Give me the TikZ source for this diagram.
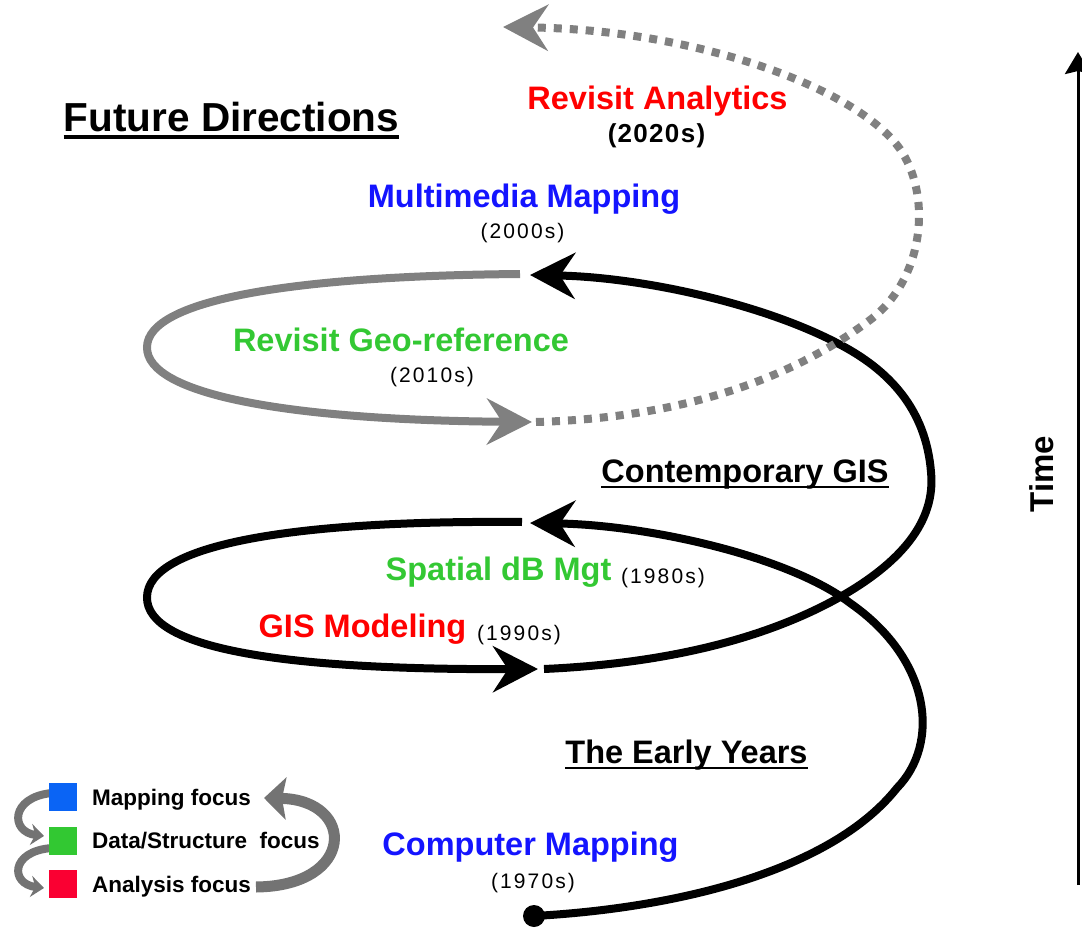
\documentclass[tikz,border=0pt]{standalone}
\usepackage{fontspec}
\setmainfont{Liberation Sans}
\usetikzlibrary{arrows.meta}
\definecolor{tred}{RGB}{255,0,0}
\definecolor{tblue}{RGB}{20,20,255}
\definecolor{tgreen}{RGB}{51,200,51}
\definecolor{lblue}{RGB}{10,100,245}
\definecolor{lgreen}{RGB}{50,200,50}
\definecolor{lred}{RGB}{250,0,50}
\definecolor{spgray}{RGB}{128,128,128}
\definecolor{leggray}{RGB}{115,115,115}
\begin{document}
\begin{tikzpicture}[x=1pt,y=-1pt,
  lbl/.style={inner sep=0pt, anchor=base, font=\bfseries\fontsize{32.5}{36}\selectfont},
  yr/.style={inner sep=0pt, anchor=base, font=\fontsize{21}{24}\selectfont\addfontfeatures{LetterSpace=10}},
  yrb/.style={inner sep=0pt, anchor=base, font=\bfseries\fontsize{26}{30}\selectfont\addfontfeatures{LetterSpace=5}},
  legtxt/.style={inner sep=0pt, anchor=base west, font=\bfseries\fontsize{22.5}{26}\selectfont},
  bigarrow/.style={-{Stealth[length=45pt,width=46pt,inset=15pt]}},
  blackline/.style={line width=8pt, black},
  grayline/.style={line width=8pt, spgray},
  dotline/.style={line width=8pt, spgray, dash pattern=on 8pt off 8pt},
  legarrow/.style={leggray, line width=8pt, -{Stealth[length=13pt,width=21pt]}},
  uline/.style={line width=2.5pt, black},
]
\useasboundingbox (0,0) rectangle (1082,928);

% key coordinates
\coordinate (start) at (534,916);
\coordinate (tip80) at (530,523);
\coordinate (st80) at (522,522);
\coordinate (tip90) at (538,669);
\coordinate (st90) at (544,669);
\coordinate (tip00) at (530,275);
\coordinate (st00) at (520,274);
\coordinate (tip10) at (532,422);
\coordinate (st10) at (536,422);
\coordinate (tip20) at (503,27);
\coordinate (xa) at (897,788);
\coordinate (xb) at (850,603);
\coordinate (ca) at (840,597);
\coordinate (cb) at (931,472);
\coordinate (cc) at (837,343);
\coordinate (la) at (147,597);
\coordinate (ga) at (147,347);
\coordinate (ea) at (870,320);
\coordinate (eb) at (902,152);

% early years segment
\draw[blackline, bigarrow] (start) .. controls (680,908) and (832,870) .. (xa)
  .. controls (940,744) and (932,660) .. (xb)
  .. controls (790,557) and (650,525) .. (tip80);
\fill (start) circle (11pt);

% 1980s -> 1990s loop
\draw[blackline, bigarrow] (st80) .. controls (290,520) and (148,545) .. (la)
  .. controls (146,650) and (290,670) .. (tip90);

% 1990s -> 2000s segment
\draw[blackline, bigarrow] (st90) .. controls (700,662) and (790,625) .. (ca)
  .. controls (900,563) and (936,522) .. (cb)
  .. controls (926,410) and (890,370) .. (cc)
  .. controls (760,303) and (640,277) .. (tip00);

% 2000s -> 2010s gray loop
\draw[grayline, -{Stealth[length=45pt,width=46pt,inset=15pt]}] (st00) .. controls (290,276) and (148,300) .. (ga)
  .. controls (146,395) and (290,420) .. (tip10);

% 2010s -> 2020s dotted
\draw[dotline, -{Stealth[length=45pt,width=46pt,inset=15pt]}] (st10) .. controls (680,418) and (790,380) .. (ea)
  .. controls (923,280) and (932,200) .. (eb)
  .. controls (862,90) and (700,30) .. (tip20);

% texts
\node[lbl, font=\bfseries\fontsize{40.5}{44}\selectfont] (fd) at (231.5,132) {Future Directions};
\draw[line width=3.5pt] ([yshift=-5pt]fd.base west) -- ([yshift=-5pt]fd.base east);
\node[lbl, text=tred] (ra) at (657.5,110) {Revisit Analytics};
\node[yrb] (y20) at (656.5,143) {(2020s)};
\node[lbl, text=tblue] (mm) at (524,208) {Multimedia Mapping};
\node[yr] (y00) at (522.5,239) {(2000s)};
\node[lbl, text=tgreen] (rg) at (401,351) {Revisit Geo-reference};
\node[yr] (y10) at (432,382) {(2010s)};
\node[lbl] (cg) at (745,482) {Contemporary GIS};
\draw[uline] ([yshift=-5pt]cg.base west) -- ([yshift=-5pt]cg.base east);
\node[lbl, text=tgreen] (sdb) at (498.5,580) {Spatial dB Mgt};
\node[yr] (y80) at (663,583) {(1980s)};
\node[lbl, text=tred] (gm) at (362.5,637) {GIS Modeling};
\node[yr] (y90) at (519,640) {(1990s)};
\node[lbl] (ey) at (686.5,763) {The Early Years};
\draw[uline] ([yshift=-5pt]ey.base west) -- ([yshift=-5pt]ey.base east);
\node[lbl, text=tblue] (cm) at (530.5,855) {Computer Mapping};
\node[yr] (y70) at (533,888) {(1970s)};

% time axis
\coordinate (tbot) at (1078,885);
\coordinate (ttop) at (1078,52);
\draw[line width=3pt, -{Stealth[length=22pt,width=26pt,inset=3pt]}] (tbot) -- (ttop);
\node[inner sep=0pt, rotate=90, font=\bfseries\fontsize{33}{36}\selectfont] (time) at (1042,474) {Time};

% legend
\coordinate (la1) at (52,793);
\coordinate (lb1) at (44,836);
\coordinate (la2) at (52,848);
\coordinate (lb2) at (44,888);
\coordinate (lr1) at (256,887);
\coordinate (lr2) at (264,798);
\draw[legarrow] (la1) .. controls (10,797) and (10,832) .. (lb1);
\draw[legarrow] (la2) .. controls (10,851) and (10,884) .. (lb2);
\draw[leggray, line width=11pt, -{Stealth[length=22pt,width=42pt,inset=4pt]}] (lr1) .. controls (356,886) and (356,800) .. (lr2);
\fill[lblue] (49,783) rectangle (77,811);
\fill[lgreen] (49,827) rectangle (77,855);
\fill[lred] (49,870) rectangle (77,898);
\node[legtxt] (l1) at (92,805) {Mapping focus};
\node[legtxt] (l2) at (92,848) {Data/Structure\ \ focus};
\node[legtxt] (l3) at (92,892) {Analysis focus};
\end{tikzpicture}
\end{document}
